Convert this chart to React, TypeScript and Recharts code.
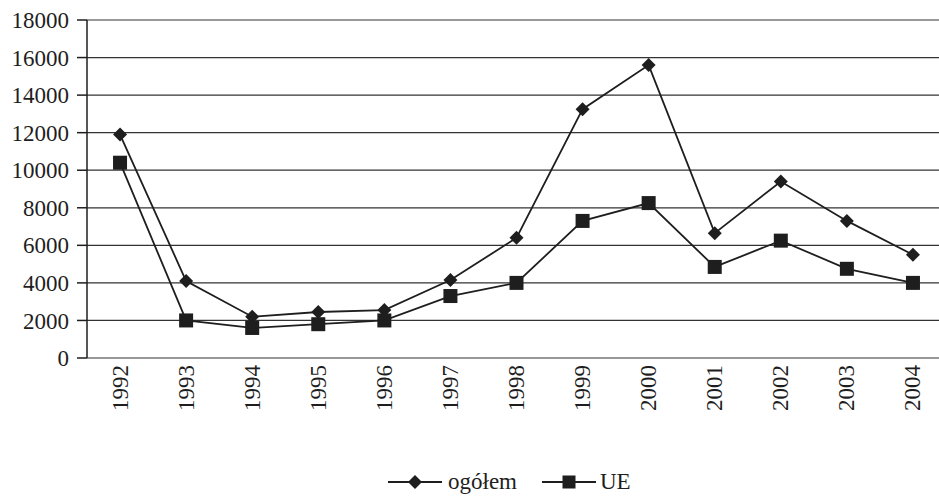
import React from 'react';
import { LineChart, Line, XAxis, YAxis, CartesianGrid, Legend } from 'recharts';

const years = [1992, 1993, 1994, 1995, 1996, 1997, 1998, 1999, 2000, 2001, 2002, 2003, 2004];
const ogolem = [11900, 4100, 2200, 2450, 2550, 4150, 6400, 13250, 15600, 6650, 9400, 7300, 5500];
const ue = [10400, 2000, 1600, 1800, 2000, 3300, 4000, 7300, 8250, 4850, 6250, 4750, 4000];
const yTicks = [0, 2000, 4000, 6000, 8000, 10000, 12000, 14000, 16000, 18000];
const seriesNames = ['ogółem', 'UE'];

const data = years.map((y, i) => ({ year: y, ogolem: ogolem[i], ue: ue[i] }));
const boundaryTicks = [...years.map((y) => y - 0.5), years[years.length - 1] + 0.5];

const FONT = 'Liberation Serif, DejaVu Serif, Times, serif';
const INK = '#1e1e1e';

const Diamond = (props: any) => {
  const { cx, cy, r = 7 } = props;
  if (cx == null || cy == null) return null;
  return (
    <polygon
      points={`${cx},${cy - r} ${cx + r},${cy} ${cx},${cy + r} ${cx - r},${cy}`}
      fill={INK}
      stroke="none"
    />
  );
};

const Square = (props: any) => {
  const { cx, cy, s = 14 } = props;
  if (cx == null || cy == null) return null;
  return <rect x={cx - s / 2} y={cy - s / 2} width={s} height={s} fill={INK} stroke="none" />;
};

const YearTick = (props: any) => {
  const { x, y, payload } = props;
  return (
    <text
      x={x}
      y={y}
      transform={`rotate(-90 ${x} ${y})`}
      textAnchor="end"
      dominantBaseline="central"
      style={{ fontFamily: FONT }}
      fontSize={23}
      fill={INK}
    >
      {String(payload.value)}
    </text>
  );
};

const LegendContent = () => (
  <div style={{ display: 'flex', alignItems: 'center', fontFamily: FONT, fontSize: 23, color: INK }}>
    {seriesNames.map((name, i) => (
      <div key={name} style={{ display: 'flex', alignItems: 'center', marginRight: i === 0 ? 25 : 0 }}>
        <svg width={54} height={16} style={{ display: 'block' }}>
          <line x1={0} y1={8} x2={54} y2={8} stroke={INK} strokeWidth={1.8} />
          {i === 0 ? <Diamond cx={27} cy={8} r={7} /> : <Square cx={27} cy={8} s={13} />}
        </svg>
        <span style={{ marginLeft: i === 0 ? 6 : 4, lineHeight: '24px' }}>{name}</span>
      </div>
    ))}
  </div>
);

export default function App() {
  return (
    <div style={{ position: 'absolute', left: 0, top: 0, width: 939, height: 499, overflow: 'hidden', background: '#fff', fontFamily: FONT }}>
      <LineChart width={960} height={499} data={data} margin={{ top: 20, right: 14, bottom: 0, left: 0 }} style={{ fontFamily: FONT }}>
        <CartesianGrid vertical={false} stroke="#333" strokeWidth={1.2} xAxisId="main" />
        <XAxis
          xAxisId="ticks"
          dataKey="year"
          type="number"
          domain={[boundaryTicks[0], boundaryTicks[boundaryTicks.length - 1]]}
          ticks={boundaryTicks}
          tick={false}
          tickSize={10}
          height={0}
          axisLine={{ stroke: INK, strokeWidth: 1.5 }}
          tickLine={{ stroke: INK, strokeWidth: 1.5 }}
          allowDataOverflow
        />
        <XAxis
          xAxisId="main"
          dataKey="year"
          type="number"
          domain={[boundaryTicks[0], boundaryTicks[boundaryTicks.length - 1]]}
          ticks={years}
          tick={<YearTick />}
          tickSize={0}
          tickMargin={7}
          height={141}
          axisLine={false}
          tickLine={false}
          interval={0}
          allowDataOverflow
        />
        <YAxis
          domain={[0, 18000]}
          ticks={yTicks}
          width={87}
          tickSize={10}
          tickMargin={8}
          interval={0}
          axisLine={{ stroke: INK, strokeWidth: 1.5 }}
          tickLine={{ stroke: INK, strokeWidth: 1.5 }}
          tick={{ style: { fontFamily: FONT }, fontSize: 23, fill: INK }}
        />
        <Legend
          verticalAlign="middle"
          align="center"
          content={<LegendContent />}
          wrapperStyle={{ top: 470, left: 388, width: 'auto', height: 28 }}
        />
        <Line
          xAxisId="main"
          dataKey="ogolem"
          name={seriesNames[0]}
          stroke={INK}
          strokeWidth={1.8}
          dot={(p: any) => <Diamond key={`d-${p.index}`} cx={p.cx} cy={p.cy} r={7} />}
          activeDot={false}
          isAnimationActive={false}
        />
        <Line
          xAxisId="main"
          dataKey="ue"
          name={seriesNames[1]}
          stroke={INK}
          strokeWidth={1.8}
          dot={(p: any) => <Square key={`s-${p.index}`} cx={p.cx} cy={p.cy} s={14} />}
          activeDot={false}
          isAnimationActive={false}
        />
      </LineChart>
    </div>
  );
}
